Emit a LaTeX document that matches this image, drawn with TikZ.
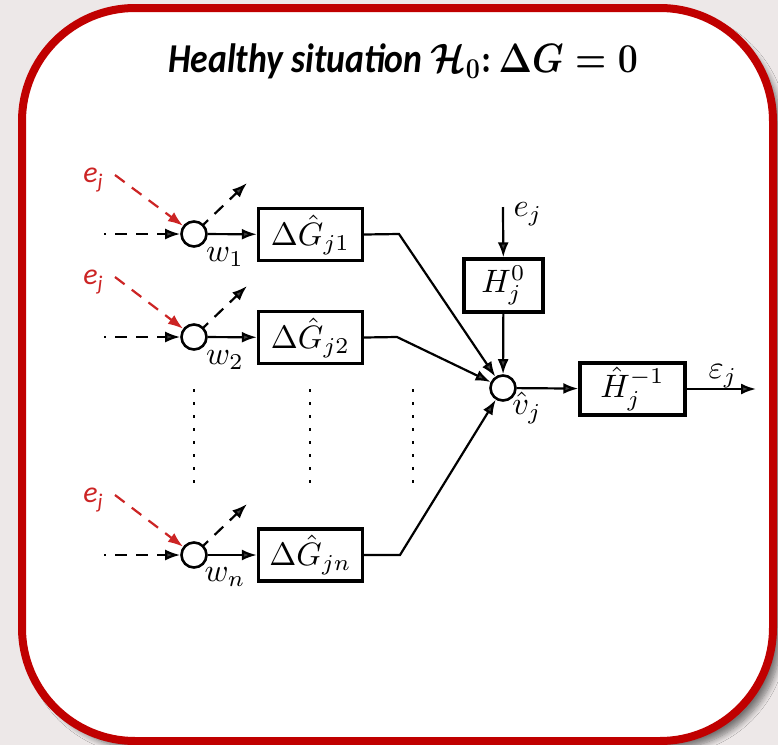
\RequirePackage{fix-cm}
\documentclass[tikz,border=0pt]{standalone}
\usepackage{fontspec}
\newfontfamily\carlito{Carlito}
\usetikzlibrary{arrows.meta,shadows.blur}

\definecolor{slidebg}{RGB}{237,232,232}
\definecolor{framered}{RGB}{192,0,0}
\definecolor{excite}{RGB}{204,36,36}

% math label set at 10pt and enlarged, keeping the heavier 10pt strokes
\newcommand\mlab[1]{\scalebox{1.62}{$#1$}}

\tikzset{
  lbl/.style={inner sep=0pt},
  blockbox/.style={draw, line width=1.7pt, inner sep=0pt},
  sumnode/.style={draw, circle, line width=1.3pt, minimum size=12.5pt, inner sep=0pt, fill=white},
  sig/.style={line width=1.1pt, -{Latex[length=7.5pt,width=5.5pt]}},
  dsig/.style={sig, dash pattern=on 6pt off 4.5pt},
  redsig/.style={dsig, excite},
  redlbl/.style={inner sep=0pt, text=excite, font=\carlito\itshape\fontsize{15}{17}\selectfont},
  dotcol/.style={line width=1.3pt, dash pattern=on 1.3pt off 5.2pt}
}

\begin{document}
\begin{tikzpicture}[x=0.5pt,y=-0.5pt]
  % page and framed panel
  \fill[slidebg] (0,0) rectangle (778,745);
  \useasboundingbox (0,0) rectangle (778,745);
  \draw[framered, line width=4pt, fill=white, rounded corners=56.5pt,
        blur shadow={shadow xshift=4pt, shadow yshift=-4pt, shadow blur radius=3pt,
                     shadow blur steps=8, shadow opacity=50}]
    (22,8) rectangle (773,741);

  % heading
  \node[inner sep=0pt, xscale=0.87, transform shape, font=\fontsize{20.5}{24}\selectfont] (title) at (403,61)
    {{\carlito\bfseries\itshape Healthy situation }{\boldmath$\mathcal{H}_{0}{:}\,\Delta G=0$}};

  % branch rows: summing points and blocks
  \node[sumnode] (s1) at (194,234) {};
  \node[sumnode] (s2) at (194,337) {};
  \node[sumnode] (sn) at (194,555) {};
  \node[blockbox, minimum width=52pt, minimum height=26pt] (g1) at (310.5,234.5) {\mlab{\Delta\hat{G}_{j1}}};
  \node[blockbox, minimum width=52pt, minimum height=26pt] (g2) at (310.5,337.5) {\mlab{\Delta\hat{G}_{j2}}};
  \node[blockbox, minimum width=52pt, minimum height=26pt] (gn) at (310.5,555) {\mlab{\Delta\hat{G}_{jn}}};

  \node[lbl] (w1) at (225,257) {\mlab{w_1}};
  \node[lbl] (w2) at (225,360) {\mlab{w_2}};
  \node[lbl] (wn) at (225,577) {\mlab{w_n}};

  \node[redlbl] (e1) at (93,180) {e\raisebox{-0.45ex}{\fontsize{10.5}{12}\selectfont j}};
  \node[redlbl] (e2) at (93,282) {e\raisebox{-0.45ex}{\fontsize{10.5}{12}\selectfont j}};
  \node[redlbl] (en) at (93,500) {e\raisebox{-0.45ex}{\fontsize{10.5}{12}\selectfont j}};

  % free ends of the branch signals
  \coordinate (i1) at (104,234);
  \coordinate (i2) at (104,337);
  \coordinate (in) at (104,555);
  \coordinate (r1) at (115,175);
  \coordinate (r2) at (115,277);
  \coordinate (rn) at (115,495);
  \coordinate (o1) at (247,183);
  \coordinate (o2) at (247,286);
  \coordinate (on) at (247,504);

  % right-hand part
  \node[sumnode] (v) at (503,388) {};
  \node[blockbox, minimum width=39.5pt, minimum height=26.5pt] (h0) at (503.5,285.5) {\mlab{H_j^0}};
  \node[blockbox, minimum width=52.5pt, minimum height=26pt] (hi) at (632.5,389) {\mlab{\hat{H}_j^{-1}}};
  \node[lbl] (etop) at (528,214) {\mlab{e_j}};
  \node[lbl] (vlbl) at (527,408) {\mlab{\hat{v}_j}};
  \node[lbl] (eps) at (723,376) {\mlab{\varepsilon_j}};
  \coordinate (esrc) at (503,207);
  \coordinate (out) at (756,389);
  \coordinate (k1) at (399,234);
  \coordinate (k2) at (397,337);
  \coordinate (kn) at (400,555);

  % branch connectors
  \foreach \r in {1,2,n}{
    \draw[dsig, dash phase=5pt] (i\r) -- (s\r);
    \draw[redsig] (r\r) -- (s\r);
    \draw[dsig, dash phase=3pt] (s\r.45) -- (o\r);
    \draw[sig] (s\r) -- (g\r);
    \draw[sig] (g\r.east) -- (k\r) -- (v);
  }

  \draw[sig] (esrc) -- (h0);
  \draw[sig] (h0) -- (v);
  \draw[sig] (v) -- (hi);
  \draw[sig] (hi) -- (out);

  % vertical ellipses between branches
  \draw[dotcol] (194,389) -- (194,483);
  \draw[dotcol] (310,389) -- (310,483);
  \draw[dotcol] (413,389) -- (413,483);
\end{tikzpicture}
\end{document}
